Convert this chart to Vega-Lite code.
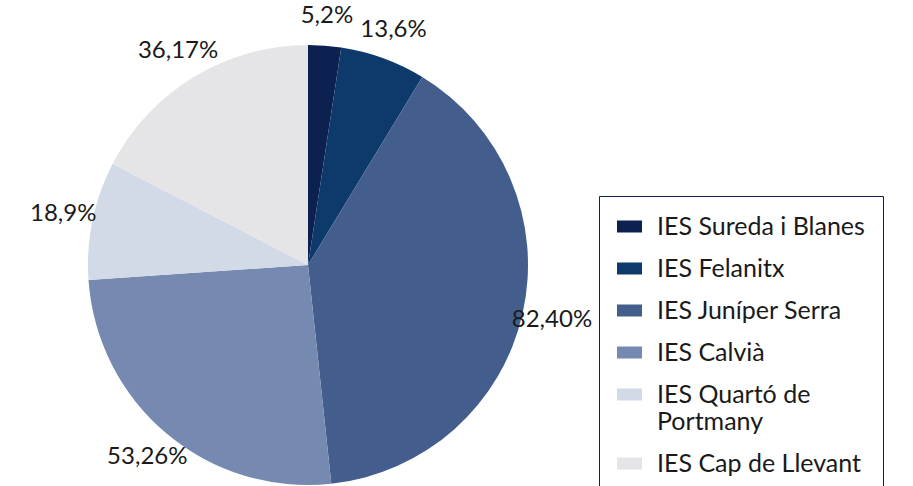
{
  "$schema": "https://vega.github.io/schema/vega-lite/v6.json",
  "width": 616,
  "height": 530,
  "autosize": {"type": "none"},
  "padding": {"left": 0, "top": 0, "right": 297, "bottom": 0},
  "background": "white",
  "config": {"view": {"stroke": null}, "font": "Lato"},
  "data": {
    "values": [
      {"centre": "IES Sureda i Blanes", "n": 5, "label": "5,2%", "order": 1},
      {"centre": "IES Felanitx", "n": 13, "label": "13,6%", "order": 2},
      {"centre": "IES Juníper Serra", "n": 82, "label": "82,40%", "order": 3},
      {"centre": "IES Calvià", "n": 53, "label": "53,26%", "order": 4},
      {"centre": "IES Quartó de Portmany", "n": 18, "label": "18,9%", "order": 5},
      {"centre": "IES Cap de Llevant", "n": 36, "label": "36,17%", "order": 6}
    ]
  },
  "layer": [
    {
      "mark": {"type": "arc", "outerRadius": 220},
      "encoding": {
        "theta": {"field": "n", "type": "quantitative", "stack": true},
        "order": {"field": "order", "type": "quantitative"},
        "color": {
          "field": "centre",
          "type": "nominal",
          "sort": ["IES Sureda i Blanes", "IES Felanitx", "IES Juníper Serra", "IES Calvià", "IES Quartó de Portmany", "IES Cap de Llevant"],
          "scale": {
            "domain": ["IES Sureda i Blanes", "IES Felanitx", "IES Juníper Serra", "IES Calvià", "IES Quartó de Portmany", "IES Cap de Llevant"],
            "range": ["#0c2150", "#0e3a6b", "#435e8c", "#7589b1", "#d3dae7", "#e5e5e8"]
          },
          "legend": {
            "title": null,
            "orient": "none",
            "legendX": 599,
            "legendY": 196,
            "strokeColor": "#0c2150",
            "fillColor": "white",
            "padding": 18,
            "labelFont": "Lato",
            "labelFontSize": 25,
            "labelColor": "#1a1a1a",
            "labelOffset": 15,
            "labelLimit": 400,
            "rowPadding": 16,
            "symbolType": "M-1,-0.48H1V0.48H-1Z",
            "symbolSize": 625,
            "symbolStrokeWidth": 0,
            "labelExpr": "datum.label == 'IES Quartó de Portmany' ? ['IES Quartó de', 'Portmany'] : datum.label"
          }
        }
      }
    },
    {
      "mark": {"type": "text", "radius": 250, "fontSize": 24, "font": "Lato", "color": "#1a1a1a"},
      "encoding": {
        "theta": {"field": "n", "type": "quantitative", "stack": true},
        "order": {"field": "order", "type": "quantitative"},
        "text": {"field": "label", "type": "nominal"}
      }
    }
  ]
}
